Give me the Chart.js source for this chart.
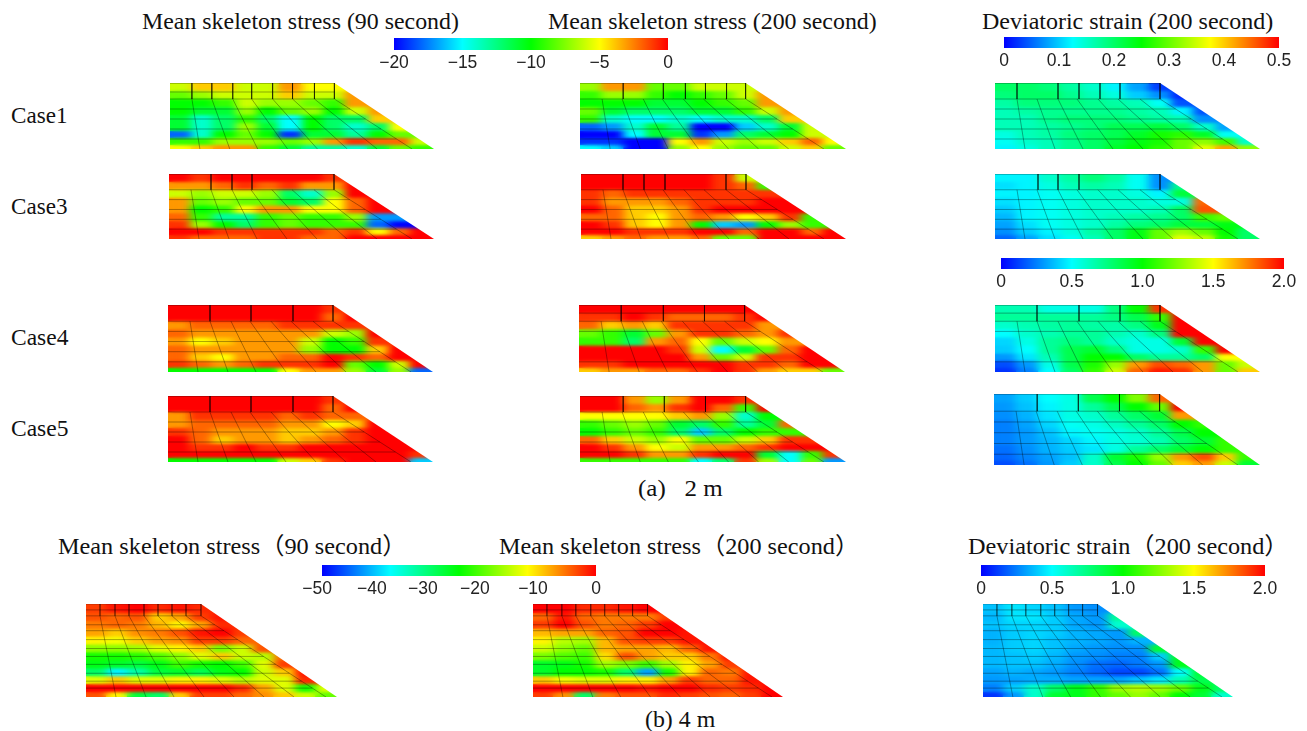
<!DOCTYPE html>
<html>
<head>
<meta charset="utf-8">
<title>Mean skeleton stress and deviatoric strain</title>
<script src="https://cdn.jsdelivr.net/npm/chart.js@4"></script>
<style>
  html, body { margin: 0; background: #fff; }
  #page { position: relative; width: 1307px; height: 731px; overflow: hidden; }
  canvas { position: absolute; }
  .txt {
    position: absolute; white-space: nowrap; line-height: 1; color: #111;
    font-family: "Liberation Serif", "Noto Sans CJK JP", serif; font-size: 23.5px;
    transform-origin: left center;
  }
</style>
</head>
<body>
<div id="page"></div>
<script>
// mean skeleton stress, 2 m (rows top to bottom, left to right up to the slope)
const case1Stress90 = [
  [-6,-4,-4,-6,-6,-3,-5,-5],
  [-8,-7,-6,-6,-6,-4,-6,-6,-3],
  [-10,-10,-9,-6,-7,-7,-8,-9,-3],
  [-10,-11,-11,-7,-10,-8,-7,-10,-6,-3],
  [-11,-14,-12,-9,-12,-15,-10,-12,-12,-4],
  [-11,-14,-12,-7,-11,-15,-10,-12,-14,-12,-5],
  [-18,-14,-10,-8,-10,-19,-11,-11,-13,-10,-8],
  [-9,-9,-7,-7,-7,-8,-7,-3,-1,-2,-2,-6],
  [-5,-4,-3,-3,-9,-11,-13,-13,-14,-11,-8,-9]
];
const case1Stress200 = [
  [-7,-3,-3,-8,-8,-6,-6,-6],
  [-9,-7,-7,-9,-10,-9,-8,-6,-3],
  [-10,-10,-10,-11,-11,-10,-9,-8,-3],
  [-8,-11,-12,-12,-12,-11,-11,-9,-6,-3],
  [-9,-14,-15,-15,-14,-15,-14,-14,-12,-4],
  [-18,-17,-14,-11,-13,-20,-20,-16,-14,-11,-6],
  [-20,-20,-15,-11,-11,-19,-17,-12,-11,-10,-6],
  [-19,-19,-20,-20,-5,-3,-6,-7,-6,-4,-2,-5],
  [-15,-16,-20,-20,-7,-5,-7,-8,-8,-6,-4,-8]
];
const case3Stress90 = [
  [0,-1,0,0,0,0,0,-1],
  [-3,-3,-2,-1,-2,-1,-3,-3,0],
  [-6,-7,-6,-6,-7,-12,-14,-7,0],
  [-3,-8,-7,-8,-8,-11,-12,-5,-2,0],
  [-3,-10,-9,-5,-3,-3,-5,-5,-2,0],
  [-2,-9,-13,-13,-9,-8,-9,-9,-7,-17,-17],
  [-1,-7,-10,-12,-9,-8,-9,-9,-9,-18,-20],
  [0,0,-1,-1,-1,-1,-1,-2,-1,-5,-2,0],
  [-1,-2,-2,-2,-1,-1,-2,-2,0,0,0,0]
];
const case3Stress200 = [
  [0,0,0,0,0,0,-1,-6],
  [0,0,0,0,0,0,-1,-2,-9],
  [-1,-2,-1,-1,-1,-1,-1,-1,-1],
  [-1,-3,-3,-3,-2,-1,-1,-1,0,0],
  [0,-2,-4,-4,-3,-1,0,0,0,0],
  [-2,-2,-4,-5,-3,-2,-3,-5,-4,-1,-9],
  [0,-1,-4,-5,-3,-10,-16,-17,-10,-7,-9],
  [0,0,-1,-1,-1,0,0,-2,0,0,-2,0],
  [-4,-3,-2,-3,-3,-2,-8,-8,0,0,0,0]
];
const case4Stress90 = [
  [0,0,0,0,0,0,0,-1],
  [0,0,0,0,0,0,0,-2,0],
  [-3,-2,-2,-2,-2,-1,-1,-1,-1],
  [-2,-3,-3,-3,-3,-3,-3,-6,-7,0],
  [-3,-5,-4,-3,-3,-3,-6,-10,-9,-1],
  [-2,-3,-3,-3,-3,-3,-7,-10,-10,-4,0],
  [-2,-4,-5,-3,-3,-2,-2,0,-1,-2,0],
  [-1,-2,-3,-2,-1,-1,-1,0,-8,-10,-6,0],
  [-10,-10,-10,-10,-10,-5,-3,-3,-7,-11,-7,-18]
];
const case4Stress200 = [
  [0,0,0,0,0,0,0,0],
  [-1,-1,0,-1,-2,-2,-2,-1,0],
  [-2,-4,-3,-4,-1,-1,-1,-1,-3],
  [-8,-9,-11,-8,-3,-1,-1,-2,-3,-1],
  [-9,-9,-12,-3,-2,-5,-8,-6,-5,-3],
  [0,0,0,0,-1,-6,-15,-11,-8,-2,0],
  [0,0,0,0,0,-3,-8,-6,-1,-1,0],
  [-1,-1,0,0,0,0,0,-1,-1,-2,0,0],
  [-4,-3,-3,-2,-2,-1,0,-1,-3,-4,-4,-8]
];
const case5Stress90 = [
  [0,0,0,0,0,0,0,-1],
  [0,0,0,0,0,0,0,-2,0],
  [-3,-1,-1,-1,-1,-2,-1,-2,-2],
  [-3,-2,-2,-2,-2,-3,-3,-5,-4,0],
  [-1,-2,-3,-3,-3,-4,-4,-3,-1,0],
  [0,-2,-4,-3,-3,-4,-3,-2,-1,0,0],
  [0,-1,-1,0,-1,-1,0,0,0,0,0],
  [0,0,0,0,0,0,0,0,0,0,0,-1],
  [-10,-10,-10,-10,-10,-6,-4,-1,0,0,0,-16]
];
const case5Stress200 = [
  [0,0,-3,-7,-3,0,0,-1],
  [0,0,-2,-3,-1,0,-2,-9,0],
  [-5,-5,-5,-5,-4,-3,-7,-14,-10],
  [-9,-8,-7,-8,-11,-12,-9,-13,-11,-2],
  [-10,-9,-8,-9,-12,-16,-12,-10,-9,-9],
  [-2,-4,-6,-7,-5,-8,-8,-6,-4,-1,-1],
  [0,-1,-3,-5,-6,-3,-3,-2,-1,0,0],
  [0,0,-1,-3,-3,-1,0,0,-11,-15,-9,-1],
  [-9,-9,-9,-9,-9,-15,-12,-1,-7,-15,-8,-17]
];

// deviatoric strain, 2 m
const case1Strain = [
  [.2,.2,.19,.17,.15,.12,.08,.03],
  [.19,.2,.2,.18,.16,.14,.1,.07,.02],
  [.17,.19,.19,.19,.18,.17,.16,.13,.04],
  [.16,.17,.18,.18,.18,.18,.17,.16,.12,.04],
  [.16,.16,.18,.19,.19,.19,.18,.17,.16,.07],
  [.16,.16,.17,.18,.19,.21,.21,.22,.2,.15,.08],
  [.14,.16,.17,.19,.2,.21,.23,.26,.27,.23,.13],
  [.13,.15,.16,.18,.2,.22,.24,.26,.3,.32,.28,.15],
  [.12,.14,.16,.18,.2,.23,.25,.27,.3,.36,.42,.32]
];
const case3Strain = [
  [.12,.12,.15,.17,.19,.17,.13,.07],
  [.11,.12,.14,.16,.17,.16,.13,.07,.18],
  [.12,.12,.13,.14,.15,.15,.14,.12,.22],
  [.11,.12,.13,.14,.15,.15,.15,.14,.14,.45],
  [.1,.12,.13,.14,.15,.15,.15,.16,.2,.46],
  [.09,.12,.13,.14,.15,.16,.17,.18,.2,.28,.3],
  [.08,.11,.13,.14,.15,.17,.19,.2,.22,.22,.24],
  [.07,.1,.12,.14,.17,.2,.24,.3,.33,.3,.25,.2],
  [.05,.08,.11,.13,.16,.2,.24,.3,.36,.34,.26,.2]
];
const case4Strain = [
  [.65,.65,.55,.55,.55,.75,1.0,1.9],
  [.7,.7,.7,.7,.7,.75,.85,1.1,2],
  [.6,.65,.68,.7,.68,.67,.75,.95,2],
  [.5,.6,.65,.7,.7,.65,.6,.75,2,2],
  [.42,.55,.7,.75,.7,.6,.55,.55,.9,2],
  [.4,.5,.7,.85,.9,.75,.55,.55,.6,1.1,2],
  [.3,.45,.65,.85,1,1,.8,.7,.7,.8,1.5],
  [.15,.3,.55,.85,1.05,1.3,1.7,1.85,1.8,1.7,1.2,1.4],
  [.1,.25,.5,.8,1.1,1.4,1.8,1.95,1.9,1.7,1.2,1.6]
];
const case5Strain = [
  [.32,.4,.5,.55,.85,1.0,1.25,1.8],
  [.3,.38,.48,.55,.7,.85,1.0,1.2,2],
  [.28,.35,.45,.55,.6,.7,.8,.9,1.7],
  [.25,.32,.42,.52,.55,.62,.7,.8,1.0,1.1],
  [.25,.3,.38,.48,.52,.55,.6,.7,.85,1.0],
  [.25,.3,.36,.42,.48,.55,.58,.65,.8,.9,1.1],
  [.22,.28,.35,.4,.45,.55,.7,.8,.9,1.0,1.1],
  [.2,.26,.32,.38,.6,.9,1.05,1.3,1.7,1.85,1.6,1.1],
  [.15,.22,.3,.4,.6,.85,1,1.2,1.6,1.7,1.4,.9]
];

// 4 m
const deepStress90 = [
  [-3,-1,0,-2,-1,-2],
  [-4,-5,-4,-10,-8,-3,-1],
  [-6,-5,-6,-9,-12,-8,-2],
  [-8,-10,-7,-6,-4,-1,0,-3],
  [-12,-13,-10,-8,-7,-3,-3,-5],
  [-18,-18,-17,-14,-12,-10,-19,-15,-4],
  [-24,-24,-23,-21,-18,-14,-10,-15,-16,-5],
  [-26,-27,-28,-26,-22,-24,-25,-22,-14,-3],
  [-30,-38,-33,-28,-27,-29,-26,-25,-15,-10,-1],
  [-14,-10,-14,-14,-12,-12,-14,-16,-14,-14,-2],
  [0,0,0,0,0,0,0,-2,-8,-14,-24,-14],
  [-4,-12,-28,-30,-10,-3,-3,-5,-7,-10,-15,-20]
];
const deepStress200 = [
  [0,0,-2,-2,-1,0],
  [-5,-1,-5,-6,-6,-6,-3],
  [-3,0,-4,-6,-5,-3,0],
  [-9,-8,-8,-5,-4,0,0,-1],
  [-12,-16,-17,-9,-4,-3,-3,-1],
  [-15,-18,-20,-9,-8,-8,-9,-5,-1],
  [-19,-21,-22,-11,-4,-8,-10,-10,-6,-1],
  [-27,-26,-24,-17,-19,-22,-17,-12,-8,-3],
  [-27,-25,-25,-24,-30,-42,-24,-12,-5,-6,-1],
  [-10,-13,-14,-14,-12,-12,-8,-3,-5,-5,-1],
  [0,0,0,0,0,-1,0,0,-2,-3,-2,0],
  [-3,-7,-30,-6,-4,-4,-2,-3,-4,-5,-3,0]
];
const deepStrain = [
  [.38,.45,.42,.38,.3,.28],
  [.36,.45,.45,.4,.33,.3,.7],
  [.38,.42,.42,.4,.33,.3,.6],
  [.35,.4,.42,.4,.35,.33,.3,.8],
  [.35,.4,.42,.38,.35,.33,.3,.35],
  [.36,.4,.42,.38,.33,.3,.28,.28,.9],
  [.36,.38,.4,.36,.3,.28,.25,.25,.4,.95],
  [.36,.38,.38,.34,.28,.22,.2,.24,.3,.95],
  [.32,.35,.33,.3,.25,.2,.14,.14,.22,.5,.9],
  [.3,.32,.34,.34,.32,.32,.32,.38,.45,.65,.85],
  [.25,.4,.6,.8,.95,1.1,1.3,1.35,1.3,1.2,.95,.8],
  [.1,.3,.6,.9,.95,1.1,1.2,1.3,1.2,1,.9,.6]
];

// colour bar tick labels
const stressTicks2m = [-20, -15, -10, -5, 0];
const strainTicksSmall = ["0", "0.1", "0.2", "0.3", "0.4", "0.5"];
const strainTicksLarge = ["0", "0.5", "1.0", "1.5", "2.0"];
const stressTicks4m = [-50, -40, -30, -20, -10, 0];
// where the -50 bar's labels really sit, they are a little left of their values
const stressTickSpots4m = [-50.9, -40.9, -31.6, -22.1, -11.5, 0];

// mesh of the 2 m section
const edgesShallow = [0, 7, 15, 23, 31, 39, 47, 54, 61, 66];
const slantTopShallow = [22, 42, 63, 82, 103, 123, 145, 165];
const slantBottomShallow = [30, 60, 88, 118, 148, 178, 208, 243];
const rowsFull = [16, 26, 36, 46, 56];
const rowsFine = [9, 16, 26, 36, 46, 56];
const rowsTop = [8, 16, 26, 56];
// mesh of the 4 m section
const edgesDeep = [0, 8, 16, 24, 32, 40, 48, 56, 64, 72, 80, 88, 94];
const slantTopDeep = [14, 29, 43, 58, 72, 86, 100, 115];
const slantBottomDeep = [30, 60, 88, 118, 148, 178, 208, 240];
const rowsDeep = [6, 12, 21, 27, 36, 45, 53, 61, 70, 78, 85];

const COLOR_STOPS = [[0, [0, 0, 255]], [.25, [0, 255, 255]], [.5, [0, 255, 0]], [.75, [255, 255, 0]], [1, [255, 0, 0]]];

const colorFor = (v, min, max) => {
  const t = Math.min(1, Math.max(0, (v - min) / (max - min)));
  let i = 0;
  while (i < COLOR_STOPS.length - 2 && t > COLOR_STOPS[i + 1][0]) i++;
  const [t0, c0] = COLOR_STOPS[i];
  const [t1, c1] = COLOR_STOPS[i + 1];
  const k = (t - t0) / (t1 - t0);
  return `rgb(${c0.map((c, j) => Math.round(c + (c1[j] - c) * k)).join(",")})`;
};

const shallow = { W: 265, H: 66, crest: 165, edges: edgesShallow, slantTop: slantTopShallow, slantBottom: slantBottomShallow, slantFrom: 16, cols: 12, postColor: "rgba(0,0,0,.55)" };
const deep = { W: 251, H: 94, crest: 115, edges: edgesDeep, slantTop: slantTopDeep, slantBottom: slantBottomDeep, slantFrom: 12, cols: 12, postColor: "rgba(0,0,0,.35)" };

const panels = [
  { data: case1Stress90, range: [-20, 0], mesh: shallow, box: [170, 83, 264, 66], rows: rowsFine, posts: [22, 42, 63, 82, 103, 123, 145, 165] },
  { data: case1Stress200, range: [-20, 0], mesh: shallow, box: [580, 83, 266, 66], rows: rowsFull, posts: [43, 83, 105, 125, 146, 165] },
  { data: case1Strain, range: [0, .5], mesh: shallow, box: [995, 83, 265, 66], rows: rowsFull, posts: [22, 63, 84, 105, 125, 165] },
  { data: case3Stress90, range: [-20, 0], mesh: shallow, box: [169, 174, 265, 65], rows: rowsFull, posts: [42, 63, 83, 165] },
  { data: case3Stress200, range: [-20, 0], mesh: shallow, box: [581, 174, 265, 65], rows: rowsFull, posts: [42, 63, 84, 145, 165] },
  { data: case3Strain, range: [0, .5], mesh: shallow, box: [995, 174, 265, 65], rows: rowsFull, posts: [43, 63, 84, 165] },
  { data: case4Stress90, range: [-20, 0], mesh: shallow, box: [168, 305, 265, 67], rows: rowsFull, posts: [42, 83, 125, 165] },
  { data: case4Stress200, range: [-20, 0], mesh: shallow, box: [579, 305, 266, 67], rows: rowsTop, posts: [42, 84, 125, 165] },
  { data: case4Strain, range: [0, 2], mesh: shallow, box: [995, 305, 265, 67], rows: rowsTop, posts: [42, 84, 125, 165] },
  { data: case5Stress90, range: [-20, 0], mesh: shallow, box: [168, 396, 265, 66], rows: rowsFull, posts: [42, 83, 125, 165] },
  { data: case5Stress200, range: [-20, 0], mesh: shallow, box: [580, 396, 266, 66], rows: rowsFull, posts: [43, 84, 125, 165] },
  { data: case5Strain, range: [0, 2], mesh: shallow, box: [994, 394, 266, 71], rows: rowsFull, posts: [43, 84, 125, 165] },
  { data: deepStress90, range: [-50, 0], mesh: deep, box: [86, 604, 251, 93], rows: rowsDeep, posts: slantTopDeep },
  { data: deepStress200, range: [-50, 0], mesh: deep, box: [533, 604, 250, 93], rows: rowsDeep, posts: slantTopDeep },
  { data: deepStrain, range: [0, 2], mesh: deep, box: [983, 604, 250, 93], rows: rowsDeep, posts: slantTopDeep }
];

const colorBars = [
  { range: [-20, 0], ticks: stressTicks2m, box: [394, 38, 274, 12] },
  { range: [0, .5], ticks: strainTicksSmall, box: [1004, 37, 275, 11] },
  { range: [0, 2], ticks: strainTicksLarge, box: [1001, 258, 283, 11] },
  { range: [-50, 0], ticks: stressTicks4m, spots: stressTickSpots4m, box: [322, 565, 274, 11] },
  { range: [0, 2], ticks: strainTicksLarge, box: [981, 565, 284, 11] }
];

const labels = [
  ["Mean skeleton stress (90 second)", 142, 22, 317],
  ["Mean skeleton stress (200 second)", 548, 22, 329],
  ["Deviatoric strain (200 second)", 982, 22, 291],
  ["Case1", 11, 116, 56],
  ["Case3", 11, 207, 56],
  ["Case4", 11, 338, 57],
  ["Case5", 11, 429, 57],
  ["(a)\u00a0\u00a0\u00a02 m", 638, 489, 85],
  ["Mean skeleton stress\uff0890 second\uff09", 58, 547, 348],
  ["Mean skeleton stress\uff08200 second\uff09", 499, 547, 360],
  ["Deviatoric strain\uff08200 second\uff09", 968, 547, 321],
  ["(b) 4 m", 645, 720, 70]
];

const page = document.getElementById("page");

const addCanvas = (left, top, width, height) => {
  const canvas = document.createElement("canvas");
  canvas.width = width;
  canvas.height = height;
  canvas.style.left = left + "px";
  canvas.style.top = top + "px";
  page.appendChild(canvas);
  return canvas;
};

// smooths the blocky cells into a contour look and trims them to the section outline
const contourPlugin = {
  id: "contour",
  beforeDatasetsDraw(chart) {
    chart.$cellsDrawn = 0;
  },
  afterDatasetDraw(chart, args, opts) {
    if (chart.getDatasetMeta(args.index).type !== "bar") return;
    if (++chart.$cellsDrawn < opts.rowCount) return;
    const { ctx, canvas, scales } = chart;
    const small = document.createElement("canvas");
    small.width = Math.ceil(canvas.width / 3);
    small.height = canvas.height;
    const sctx = small.getContext("2d");
    sctx.filter = "blur(1.6px)";
    sctx.drawImage(canvas, 0, 0, small.width, small.height);
    ctx.save();
    ctx.drawImage(small, 0, 0, canvas.width, canvas.height);
    ctx.globalCompositeOperation = "destination-in";
    ctx.beginPath();
    opts.outline.forEach(([x, y]) => ctx.lineTo(scales.xm.getPixelForValue(x), scales.y.getPixelForValue(y)));
    ctx.closePath();
    ctx.fill();
    ctx.restore();
  }
};

const meshLines = (p) => {
  const { H, crest, slantTop, slantBottom, slantFrom } = p.mesh;
  const innerToe = slantBottom[slantBottom.length - 1];
  const rightEnd = (y) => crest + Math.max(0, y - slantFrom) / (H - slantFrom) * (innerToe - crest);
  const pts = [];
  const seg = (x0, y0, x1, y1) => pts.push({ x: x0, y: y0 }, { x: x1, y: y1 }, { x: NaN, y: NaN });
  p.rows.forEach((y) => seg(0, y, rightEnd(y), y));
  slantTop.forEach((x, i) => seg(x, slantFrom, slantBottom[i], H));
  return pts;
};

const postLines = (p) => {
  const { crest, slantFrom } = p.mesh;
  const pts = [{ x: 0, y: 0 }, { x: crest, y: 0 }, { x: NaN, y: NaN }];
  p.posts.forEach((x) => pts.push({ x, y: 0 }, { x, y: slantFrom }, { x: NaN, y: NaN }));
  return pts;
};

const lineSet = (data, color, width) => ({
  type: "line",
  xAxisID: "xm",
  data,
  order: 1,
  clip: false,
  borderColor: color,
  borderWidth: width,
  pointRadius: 0,
  spanGaps: false,
  tension: 0
});

const drawPanel = (p) => {
  const [left, top, width, height] = p.box;
  const { W, H, crest, edges, cols, postColor } = p.mesh;
  const columns = Array.from({ length: cols }, (_, i) => i + 1);
  const cellSets = p.data.map((row, r) => ({
    type: "bar",
    data: columns.map(() => [edges[r], edges[r + 1]]),
    backgroundColor: columns.map((_, c) => colorFor(row[Math.min(c, row.length - 1)], p.range[0], p.range[1])),
    borderWidth: 0,
    inflateAmount: 1,
    barPercentage: 1,
    categoryPercentage: 1,
    grouped: false,
    order: 2
  }));
  new Chart(addCanvas(left, top, width, height), {
    type: "bar",
    data: {
      labels: columns,
      datasets: [...cellSets, lineSet(meshLines(p), "rgba(0,0,0,.42)", .8), lineSet(postLines(p), postColor, .9)]
    },
    options: {
      responsive: false,
      animation: false,
      layout: { padding: 0 },
      scales: {
        x: { display: false },
        xm: { type: "linear", display: false, min: 0, max: W, offset: false },
        y: { display: false, min: 0, max: H, reverse: true }
      },
      plugins: {
        legend: { display: false },
        tooltip: { enabled: false },
        contour: { rowCount: p.data.length, outline: [[0, 0], [crest, 0], [W, H], [0, H]] }
      }
    },
    plugins: [contourPlugin]
  });
};

const drawColorBar = (b) => {
  const [left, top, width, height] = b.box;
  const side = 24;
  const labelBand = 24;
  const spots = b.spots || b.ticks.map(Number);
  new Chart(addCanvas(left - side, top, width + side * 2, height + labelBand), {
    type: "bar",
    data: {
      labels: [""],
      datasets: [{
        data: [[b.range[0], b.range[1]]],
        borderWidth: 0,
        barPercentage: 1,
        categoryPercentage: 1,
        backgroundColor: (ctx) => {
          const area = ctx.chart.chartArea;
          if (!area) return null;
          const g = ctx.chart.ctx.createLinearGradient(area.left, 0, area.right, 0);
          COLOR_STOPS.forEach(([t, c]) => g.addColorStop(t, `rgb(${c.join(",")})`));
          return g;
        }
      }]
    },
    options: {
      indexAxis: "y",
      responsive: false,
      animation: false,
      layout: { padding: { left: side, right: side, top: 0, bottom: 0 } },
      scales: {
        y: { display: false },
        x: {
          min: b.range[0],
          max: b.range[1],
          grid: { display: false, drawTicks: false },
          border: { display: false },
          afterBuildTicks: (s) => { s.ticks = spots.map((value) => ({ value })); },
          afterFit: (s) => { s.height = labelBand; },
          ticks: {
            autoSkip: false,
            maxRotation: 0,
            padding: 3,
            color: "#222",
            font: { family: "'Liberation Sans'", size: 17.5 },
            callback: (v, i) => String(b.ticks[i]).replace("-", "\u2212")
          }
        }
      },
      plugins: { legend: { display: false }, tooltip: { enabled: false } }
    }
  });
};

const addLabel = ([text, left, middle, width]) => {
  const el = document.createElement("div");
  el.className = "txt";
  el.textContent = text;
  el.style.left = left + "px";
  el.style.top = middle + "px";
  page.appendChild(el);
  el.style.transform = `translateY(-50%) scaleX(${width / el.offsetWidth})`;
};

panels.forEach(drawPanel);
colorBars.forEach(drawColorBar);
labels.forEach(addLabel);
</script>
</body>
</html>
